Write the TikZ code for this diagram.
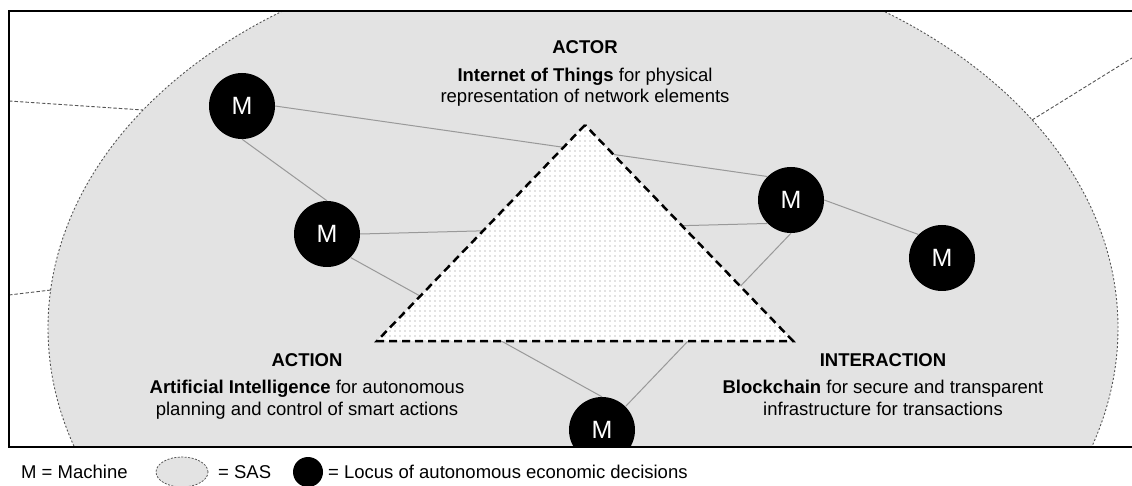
\documentclass[tikz,border=0pt]{standalone}
\usepackage{fontspec}
\setmainfont{Liberation Sans}
\usetikzlibrary{patterns.meta,shapes.geometric}
\definecolor{sasfill}{HTML}{E3E3E3}
\definecolor{linkgray}{HTML}{999999}
\definecolor{bordergray}{HTML}{555555}
\definecolor{dotgray}{HTML}{8A8A8A}
\begin{document}
\begin{tikzpicture}[x=1pt,y=-1pt,
  machine/.style={circle,fill=black,minimum size=66pt,inner sep=0pt,text=white,font=\fontsize{25}{25}\selectfont},
  link/.style={draw=linkgray,line width=1pt},
  lbl/.style={font=\fontsize{18.5}{21}\selectfont,anchor=base,inner sep=0pt},
  sasborder/.style={draw=bordergray,line width=0.9pt,dash pattern=on 2pt off 2pt},
  outline/.style={draw=bordergray,line width=0.9pt,dash pattern=on 3.5pt off 2pt},
  legsas/.style={ellipse,fill=sasfill,draw=bordergray,line width=0.8pt,dash pattern=on 2pt off 1.5pt,minimum width=52pt,minimum height=30pt,inner sep=0pt},
  frame/.style={draw=black,line width=1.5pt}
]
\useasboundingbox (0,0) rectangle (1132,486);
% SAS ellipse and clipped bottom machine
\begin{scope}
  \clip (9,11) rectangle (1132,447);
  \fill[sasfill] (583,328) ellipse [x radius=535pt, y radius=383pt];
  \path[sasborder] (583,328) ellipse [x radius=535pt, y radius=383pt];
  \node[machine] (M5) at (602,430) {M};
\end{scope}
% outer dashed boundaries
\coordinate (oL1a) at (9,101);
\coordinate (oL1b) at (143,110);
\coordinate (oL2a) at (9,295);
\coordinate (oL2b) at (51,290);
\coordinate (oR1a) at (1032,120);
\coordinate (oR1b) at (1132,58);
\path[outline] (oL1a) -- (oL1b);
\path[outline] (oL2a) -- (oL2b);
\path[outline] (oR1a) -- (oR1b);
% machines
\node[machine] (M1) at (242,106) {M};
\node[machine] (M2) at (327,234) {M};
\node[machine] (M3) at (791,200) {M};
\node[machine] (M4) at (942,258) {M};
% connectors
\path[link] (M1.east) -- (M3.north west);
\path[link] (M1.south) -- (M2.north);
\path[link] (M2.east) -- (M3.south west);
\path[link] (M2.south east) -- (M5.north);
\path[link] (M3.south) -- (M5.45);
\path[link] (M3.east) -- (M4.north west);
% triangle
\coordinate (T1) at (585,125);
\coordinate (T2) at (377,341);
\coordinate (T3) at (793,341);
\fill[white] (T1) -- (T2) -- (T3) -- cycle;
\fill[pattern={Dots[distance=5pt,radius=0.55pt]},pattern color=dotgray] (T1) -- (T2) -- (T3) -- cycle;
\draw[black,line width=2.5pt,dash pattern=on 8pt off 5pt,line join=miter] (T1) -- (T2) -- (T3) -- cycle;
% texts
\node[lbl] (actorT) at (585,54) {\textbf{ACTOR}};
\node[lbl] (actorA) at (585,81.5) {\textbf{Internet of Things} for physical};
\node[lbl] (actorB) at (585,102.5) {representation of network elements};
\node[lbl] (actionT) at (307,366) {\textbf{ACTION}};
\node[lbl] (actionA) at (307,393.5) {\textbf{Artificial Intelligence} for autonomous};
\node[lbl] (actionB) at (307,415) {planning and control of smart actions};
\node[lbl] (interT) at (883,366) {\textbf{INTERACTION}};
\node[lbl] (interA) at (883,393.5) {\textbf{Blockchain} for secure and transparent};
\node[lbl] (interB) at (883,415) {infrastructure for transactions};
% frame
\coordinate (F1) at (1132,11);
\coordinate (F2) at (9,11);
\coordinate (F3) at (9,447);
\coordinate (F4) at (1132,447);
\path[frame] (F1) -- (F2) -- (F3) -- (F4);
% legend
\node[lbl,anchor=base west] (legM) at (21,478.5) {M = Machine};
\node[legsas] (legE) at (182,472) {};
\node[lbl,anchor=base west] (legS) at (218,478.5) {= SAS};
\node[circle,fill=black,minimum size=30pt,inner sep=0pt] (legC) at (308,472) {};
\node[lbl,anchor=base west] (legL) at (328,478.5) {= Locus of autonomous economic decisions};
\end{tikzpicture}
\end{document}
